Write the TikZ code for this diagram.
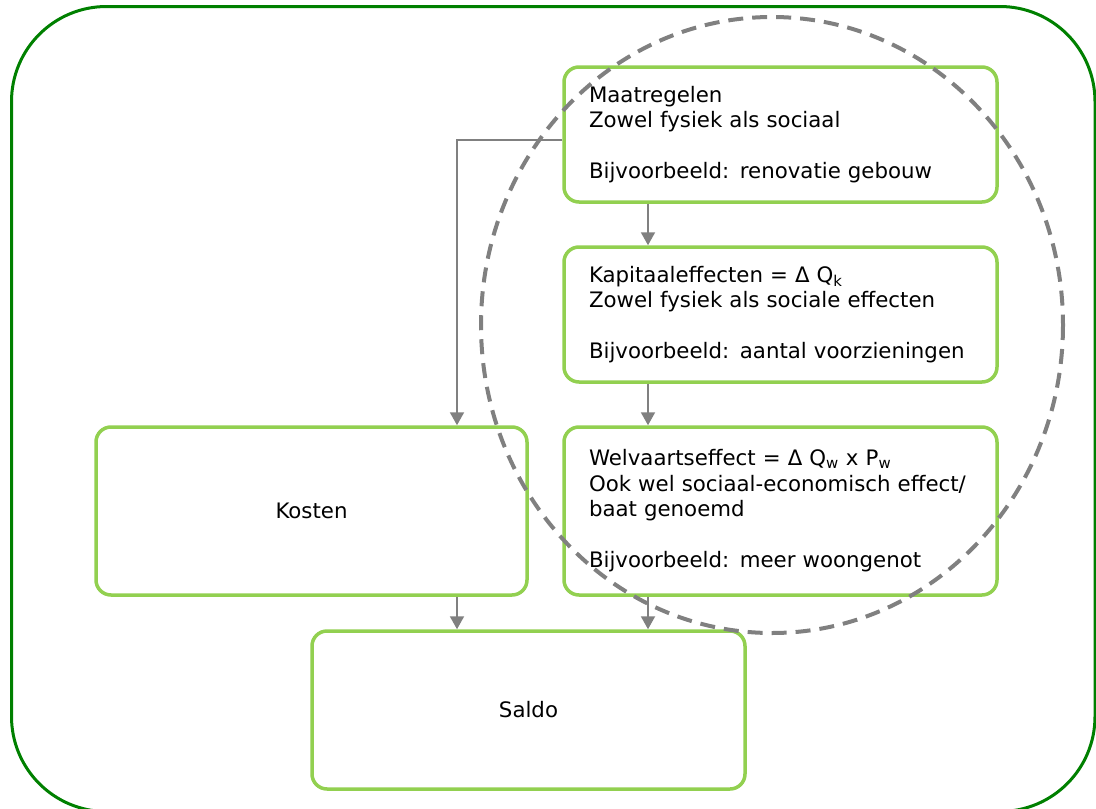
\documentclass[tikz,border=0pt]{standalone}
\usepackage{fontspec}
\setmainfont{DejaVu Sans}
\usetikzlibrary{arrows.meta}
\definecolor{framegreen}{RGB}{0,128,0}
\definecolor{boxgreen}{RGB}{146,208,80}
\definecolor{conngray}{RGB}{128,128,128}
\begin{document}
\begin{tikzpicture}[x=1pt,y=-1pt,
  box/.style={draw=boxgreen, line width=3.5pt, rounded corners=15pt, fill=white,
    font=\fontsize{21.3}{25.5}\selectfont},
  textbox/.style={box, minimum width=433pt, text width=383pt, inner xsep=25pt, align=left},
  arr/.style={draw=conngray, line width=2pt, -{Triangle[length=13pt,width=14pt]}},
  ]
\useasboundingbox (0,0) rectangle (1096,809);
\draw[framegreen, line width=3pt, rounded corners=95pt] (11.5,6.5) rectangle (1095,811.5);

\node[textbox, minimum height=135pt] (maat) at (780.5,134.5)
  {Maatregelen\\Zowel fysiek als sociaal\\[25.5pt]Bijvoorbeeld: renovatie gebouw};
\node[textbox, minimum height=135pt] (kap) at (780.5,314.5)
  {Kapitaaleffecten = Δ Q\textsubscript{k}\\Zowel fysiek als sociale effecten\\[25.5pt]Bijvoorbeeld: aantal voorzieningen};
\node[textbox, minimum height=168pt] (welv) at (780.5,511)
  {Welvaartseffect = Δ Q\textsubscript{w} x P\textsubscript{w}\\Ook wel sociaal-economisch effect/\\baat genoemd\\[25.5pt]Bijvoorbeeld: meer woongenot};
\node[box, minimum width=431pt, minimum height=168pt] (kosten) at (311.5,511) {Kosten};
\node[box, minimum width=433pt, minimum height=158pt] (saldo) at (528.5,710) {Saldo};

\coordinate (ax) at (648,0);
\coordinate (bx) at (457,0);
\coordinate (ey) at (0,140);
\draw[arr] (maat.south -| ax) -- (kap.north -| ax);
\draw[arr] (kap.south -| ax) -- (welv.north -| ax);
\draw[arr] (welv.south -| ax) -- (saldo.north -| ax);
\draw[arr] (kosten.south -| bx) -- (saldo.north -| bx);
\draw[arr] (maat.west |- ey) -| (kosten.north -| bx);

\draw[conngray, line width=4pt, dash pattern=on 15pt off 9pt]
  (772,325) ellipse [x radius=291, y radius=308];
\end{tikzpicture}
\end{document}
